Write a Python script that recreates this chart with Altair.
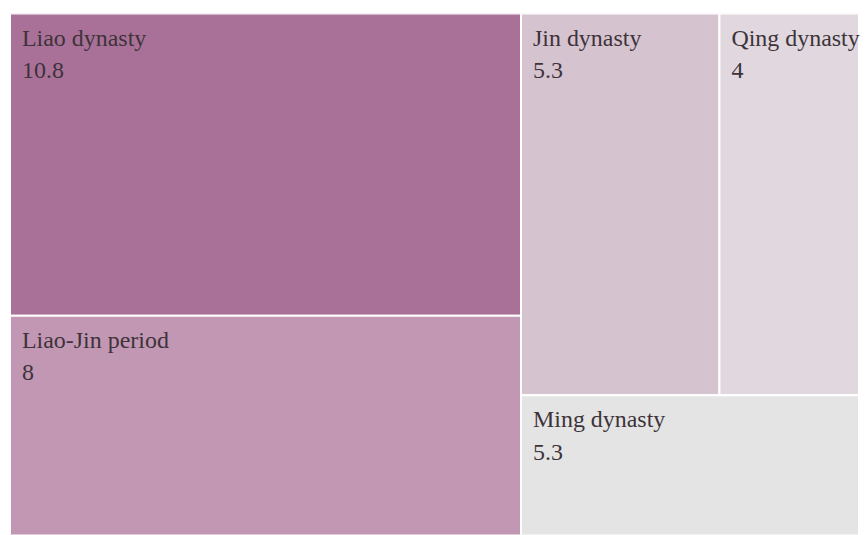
import altair as alt
import pandas as pd

# ---- data ----
categories = ["Liao dynasty", "Liao-Jin period", "Jin dynasty", "Qing dynasty", "Ming dynasty"]
values = [10.8, 8, 5.3, 4, 5.3]
colors = ["#a97198", "#c297b4", "#d6c3d0", "#e0d8de", "#e4e4e4"]

# full treemap extent and the part of it that is visible in the reference
LAYOUT_W, LAYOUT_H = 910, 527
VIEW_W, VIEW_H = 850, 522


def squarify(sizes, x0, y0, x1, y1, ratio=(1 + 5 ** 0.5) / 2):
    """d3-style squarified treemap layout."""
    n = len(sizes)
    rects = [None] * n
    value = sum(sizes)
    i0 = 0
    while i0 < n:
        dx, dy = x1 - x0, y1 - y0
        i1 = i0
        sum_v = sizes[i1]
        i1 += 1
        mn = mx = sum_v
        alpha = max(dy / dx, dx / dy) / (value * ratio)
        beta = sum_v * sum_v * alpha
        min_ratio = max(mx / beta, beta / mn)
        while i1 < n:
            nv = sizes[i1]
            s = sum_v + nv
            mn2, mx2 = min(mn, nv), max(mx, nv)
            beta = s * s * alpha
            nr = max(mx2 / beta, beta / mn2)
            if nr > min_ratio:
                break
            sum_v, mn, mx, min_ratio = s, mn2, mx2, nr
            i1 += 1
        row = range(i0, i1)
        if dx < dy:
            ny = y0 + dy * sum_v / value
            cx = x0
            for i in row:
                w = dx * sizes[i] / sum_v
                rects[i] = (cx, y0, cx + w, ny)
                cx += w
            y0 = ny
        else:
            nx = x0 + dx * sum_v / value
            cy = y0
            for i in row:
                h = dy * sizes[i] / sum_v
                rects[i] = (x0, cy, nx, cy + h)
                cy += h
            x0 = nx
        value -= sum_v
        i0 = i1
    return rects


# tiles are laid out by descending size; labels follow the listing order, as in the reference
sizes = sorted(values, reverse=True)
rects = squarify(sizes, 0, 0, LAYOUT_W, LAYOUT_H)

df = pd.DataFrame({
    "category": categories,
    "label": [f"{v:g}" for v in values],
    "x0": [r[0] for r in rects],
    "y0": [r[1] for r in rects],
    "x1": [r[2] for r in rects],
    "y1": [r[3] for r in rects],
})

xs = alt.Scale(domain=[0, VIEW_W], nice=False, zero=False)
ys = alt.Scale(domain=[0, VIEW_H], nice=False, zero=False, reverse=True)

base = alt.Chart(df)

tiles = base.mark_rect(stroke="white", strokeWidth=2, clip=True).encode(
    x=alt.X("x0:Q", scale=xs, axis=None),
    x2="x1:Q",
    y=alt.Y("y0:Q", scale=ys, axis=None),
    y2="y1:Q",
    color=alt.Color("category:N", scale=alt.Scale(domain=categories, range=colors), legend=None),
)

text_style = dict(align="left", baseline="alphabetic", dx=12,
                  font="Liberation Serif", fontSize=24, color="#3d3339")

names = base.mark_text(dy=32, **text_style).encode(
    x=alt.X("x0:Q", scale=xs, axis=None),
    y=alt.Y("y0:Q", scale=ys, axis=None),
    text="category:N",
)

nums = base.mark_text(dy=65, **text_style).encode(
    x=alt.X("x0:Q", scale=xs, axis=None),
    y=alt.Y("y0:Q", scale=ys, axis=None),
    text="label:N",
)

chart = (
    alt.layer(tiles, names, nums)
    .properties(
        width=VIEW_W,
        height=VIEW_H,
        padding={"left": 2, "top": 5, "right": 0, "bottom": 0},
        background="white",
    )
    .configure_view(stroke=None)
)

chart.save("out.html", embed_options={"renderer": "svg", "actions": False})
